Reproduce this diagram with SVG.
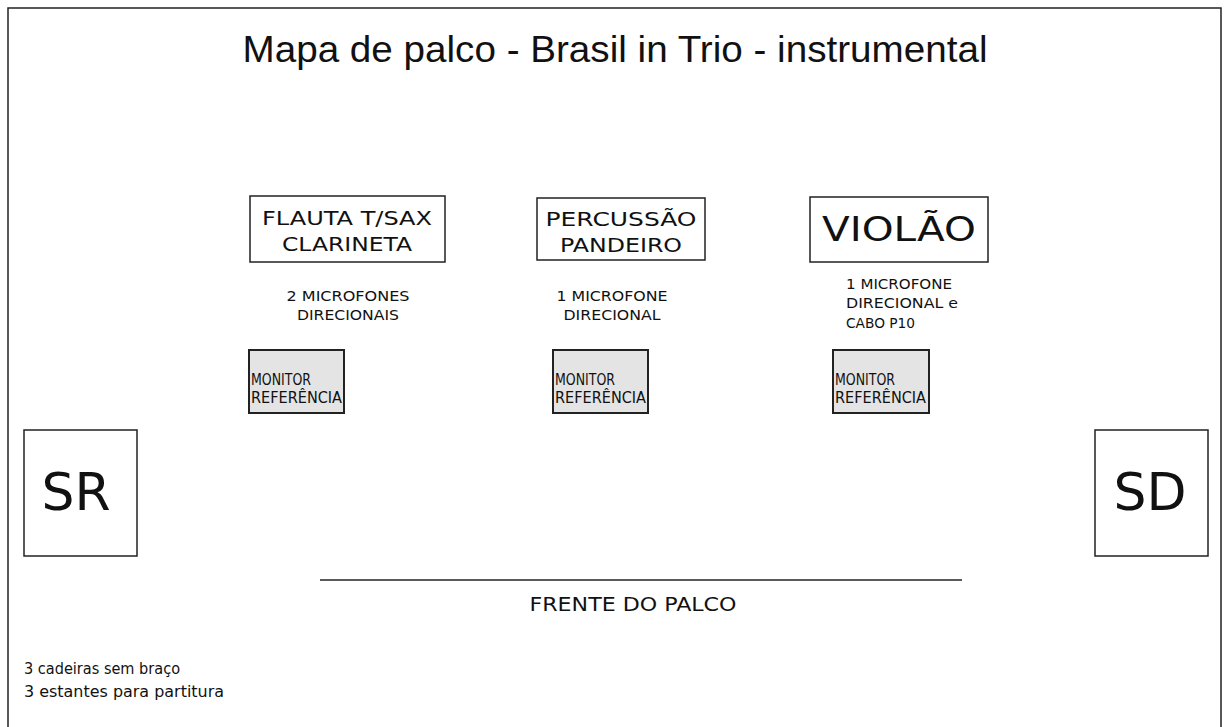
<svg xmlns="http://www.w3.org/2000/svg" width="1226" height="727" viewBox="0 0 1226 727">
<style>
.box{fill:#fff;stroke:#222;stroke-width:1.5}
.mon{fill:#e4e4e4;stroke:#222;stroke-width:2}
.t{font-family:"DejaVu Sans",Verdana,sans-serif;fill:#111}
.a{font-family:"Liberation Sans",Arial,sans-serif;fill:#111}
</style>
<rect x="0" y="0" width="1226" height="727" fill="#fff"/>
<path d="M8,735 V8 H1221 V735" fill="none" stroke="#222" stroke-width="1.5"/>
<text class="a" x="615" y="62" font-size="36" text-anchor="middle" textLength="745" lengthAdjust="spacingAndGlyphs">Mapa de palco - Brasil in Trio - instrumental</text>
<g id="flauta">
<rect class="box" x="250" y="196" width="195" height="66"/>
<text class="t" x="347" y="225" font-size="20" text-anchor="middle" textLength="170" lengthAdjust="spacingAndGlyphs">FLAUTA T/SAX</text>
<text class="t" x="347" y="251" font-size="20" text-anchor="middle" textLength="130" lengthAdjust="spacingAndGlyphs">CLARINETA</text>
<text class="t" x="348" y="301" font-size="13.5" text-anchor="middle" textLength="123" lengthAdjust="spacingAndGlyphs">2 MICROFONES</text>
<text class="t" x="348" y="320" font-size="13.5" text-anchor="middle" textLength="102" lengthAdjust="spacingAndGlyphs">DIRECIONAIS</text>
</g>
<g id="percussao">
<rect class="box" x="537" y="198" width="168" height="62"/>
<text class="t" x="621" y="226" font-size="20" text-anchor="middle" textLength="151" lengthAdjust="spacingAndGlyphs">PERCUSSÃO</text>
<text class="t" x="621" y="252" font-size="20" text-anchor="middle" textLength="122" lengthAdjust="spacingAndGlyphs">PANDEIRO</text>
<text class="t" x="612" y="301" font-size="13.5" text-anchor="middle" textLength="111" lengthAdjust="spacingAndGlyphs">1 MICROFONE</text>
<text class="t" x="612" y="320" font-size="13.5" text-anchor="middle" textLength="97" lengthAdjust="spacingAndGlyphs">DIRECIONAL</text>
</g>
<g id="violao">
<rect class="box" x="810" y="197" width="178" height="65"/>
<text class="t" x="899" y="241" font-size="33" text-anchor="middle" textLength="154" lengthAdjust="spacingAndGlyphs">VIOLÃO</text>
<text class="t" x="846" y="289" font-size="13.5" textLength="106" lengthAdjust="spacingAndGlyphs">1 MICROFONE</text>
<text class="t" x="846" y="308" font-size="13.5" textLength="112" lengthAdjust="spacingAndGlyphs">DIRECIONAL e</text>
<text class="t" x="846" y="328" font-size="13.5" textLength="69" lengthAdjust="spacingAndGlyphs">CABO P10</text>
</g>
<g id="monitor1">
<rect class="mon" x="249" y="350" width="95" height="63"/>
<text class="t" x="251" y="385" font-size="15" textLength="60" lengthAdjust="spacingAndGlyphs">MONITOR</text>
<text class="t" x="251" y="403" font-size="15" textLength="91" lengthAdjust="spacingAndGlyphs">REFERÊNCIA</text>
</g>
<g id="monitor2">
<rect class="mon" x="553" y="350" width="95" height="63"/>
<text class="t" x="555" y="385" font-size="15" textLength="60" lengthAdjust="spacingAndGlyphs">MONITOR</text>
<text class="t" x="555" y="403" font-size="15" textLength="91" lengthAdjust="spacingAndGlyphs">REFERÊNCIA</text>
</g>
<g id="monitor3">
<rect class="mon" x="833" y="350" width="96" height="63"/>
<text class="t" x="835" y="385" font-size="15" textLength="60" lengthAdjust="spacingAndGlyphs">MONITOR</text>
<text class="t" x="835" y="403" font-size="15" textLength="91" lengthAdjust="spacingAndGlyphs">REFERÊNCIA</text>
</g>
<g id="sr">
<rect class="box" x="24" y="430" width="113" height="126"/>
<text class="t" x="76" y="510" font-size="52" text-anchor="middle">SR</text>
</g>
<g id="sd">
<rect class="box" x="1095" y="430" width="113" height="126"/>
<text class="t" x="1150" y="510" font-size="52" text-anchor="middle">SD</text>
</g>
<g id="frente">
<line x1="320" y1="580" x2="962" y2="580" stroke="#222" stroke-width="1.5"/>
<text class="t" x="633" y="611" font-size="19" text-anchor="middle" textLength="207" lengthAdjust="spacingAndGlyphs">FRENTE DO PALCO</text>
</g>
<g id="notas">
<text class="t" x="24" y="674" font-size="16" textLength="156" lengthAdjust="spacingAndGlyphs">3 cadeiras sem braço</text>
<text class="t" x="24" y="697" font-size="16" textLength="200" lengthAdjust="spacingAndGlyphs">3 estantes para partitura</text>
</g>
</svg>
